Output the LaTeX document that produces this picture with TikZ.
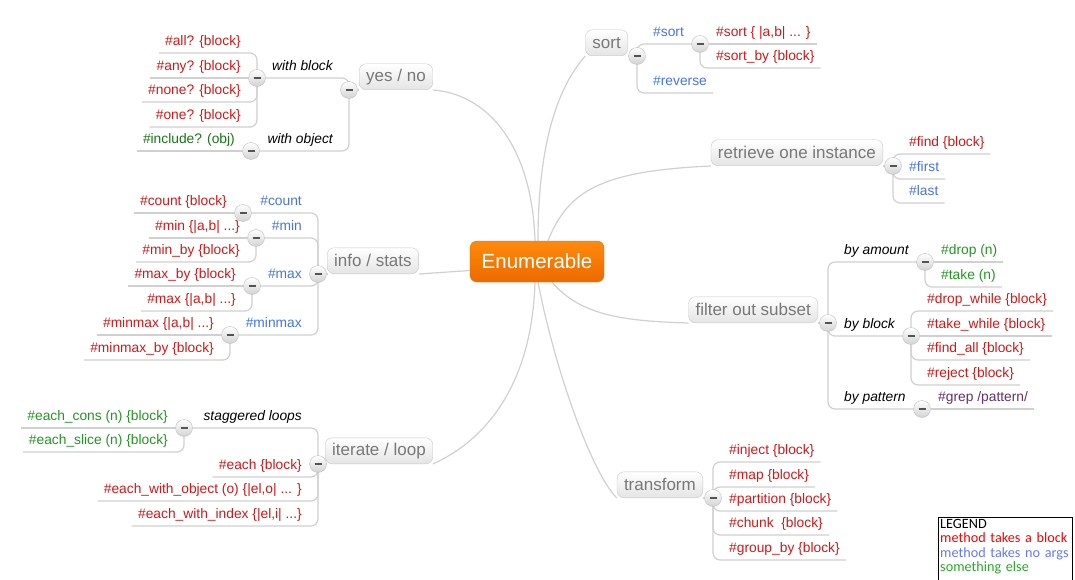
\documentclass[tikz,border=0pt]{standalone}
\usepackage{fontspec}
\setmainfont{Liberation Sans}
\newfontfamily\legendfont{Carlito}
\usetikzlibrary{positioning}
\definecolor{blockred}{RGB}{212,22,22}
\definecolor{noargblue}{RGB}{70,115,235}
\definecolor{elsegreen}{RGB}{34,150,34}
\definecolor{objgreen}{RGB}{22,118,22}
\definecolor{grepviolet}{RGB}{104,46,104}
\definecolor{linkgray}{RGB}{208,208,208}
\definecolor{topictext}{RGB}{120,120,120}
\definecolor{topicline}{RGB}{200,200,200}
\definecolor{topicfill}{RGB}{228,228,228}
\definecolor{roottop}{RGB}{255,138,12}
\definecolor{rootbot}{RGB}{236,106,0}
\definecolor{legred}{RGB}{250,0,0}
\definecolor{legblue}{RGB}{100,120,255}
\definecolor{leggreen}{RGB}{40,170,40}
\pgfdeclarelayer{bg}
\pgfsetlayers{bg,main}

\begin{document}
\begin{tikzpicture}[
  x=1pt, y=-1pt,
  root/.style={rounded corners=7pt, top color=roottop, bottom color=rootbot, draw=rootbot,
               text=white, font=\fontsize{20.5}{24}\selectfont,
               minimum width=134pt, minimum height=41pt, inner sep=0pt},
  topic/.style={rounded corners=7pt, top color=white, bottom color=topicfill, draw=topicline,
                text=topictext, font=\fontsize{17}{20}\selectfont,
                inner xsep=7pt, inner ysep=0pt, minimum height=26pt},
  fold/.style={circle, minimum size=17pt, inner sep=0pt, top color=white, bottom color=gray!35,
               draw=gray!50,
               path picture={\draw[line width=2pt, gray!65!black]
                 ([xshift=-3.5pt]path picture bounding box.center) --
                 ([xshift=3.5pt]path picture bounding box.center);}},
  leaf/.style={font=\fontsize{13.8}{16}\selectfont, text height=10pt, text depth=3pt,
               inner xsep=6pt, inner ysep=4pt},
  leafL/.style={leaf, anchor=south east},
  leafR/.style={leaf, anchor=south west},
  how/.style={font=\fontsize{13.8}{16}\selectfont\itshape, text=black},
  blk/.style={text=blockred},
  noarg/.style={text=noargblue},
  other/.style={text=elsegreen},
  link/.style={draw=linkgray, line width=1.2pt, rounded corners=7pt},
  legendbox/.style={anchor=north west, inner xsep=2pt, inner ysep=2pt, text width=130pt,
                    align=left, font=\legendfont\fontsize{14.2}{14.5}\selectfont}
]
\useasboundingbox (0,0) rectangle (1075,580);

\node[root] (enum) at (537,261.5) {Enumerable};

\node[topic, anchor=south west] (yesno) at (359,90) {yes / no};
\node[topic, anchor=south west] (info) at (327,274) {info / stats};
\node[topic, anchor=south west] (iter) at (325,464) {iterate / loop};
\node[topic, anchor=south east] (sort) at (628,56) {sort};
\node[topic, anchor=south east] (retr) at (883,166) {retrieve one instance};
\node[topic, anchor=south east] (filt) at (818,323) {filter out subset};
\node[topic, anchor=south east] (trans) at (703,498) {transform};

\node[fold] (cYes) at (349,90) {};
\node[fold] (cWB) at (257,78) {};
\node[fold] (cWO) at (251,151) {};
\node[fold] (cInfo) at (318,274) {};
\node[fold] (cCount) at (243,213) {};
\node[fold] (cMin) at (256,238) {};
\node[fold] (cMax) at (252,286) {};
\node[fold] (cMinmax) at (230,335) {};
\node[fold] (cIter) at (318,464) {};
\node[fold] (cStag) at (184,428) {};
\node[fold] (cSort) at (637,56) {};
\node[fold] (cSortS) at (700,44) {};
\node[fold] (cRetr) at (893,166) {};
\node[fold] (cFilt) at (828,323) {};
\node[fold] (cAmount) at (925,262) {};
\node[fold] (cBlock) at (911,336) {};
\node[fold] (cPattern) at (922,409) {};
\node[fold] (cTrans) at (713,498) {};

\node[leafL, how] (lWB) at (339,78) {with block};
\node[leafL, how] (lWO) at (339,151) {with object};
\node[leafL, blk] (all) at (247,53) {\#all? \{block\}};
\node[leafL, blk] (any) at (247,78) {\#any? \{block\}};
\node[leafL, blk] (none) at (247,102) {\#none? \{block\}};
\node[leafL, blk] (one) at (247,127) {\#one? \{block\}};
\node[leafL, text=objgreen] (incl) at (241,151) {\#include? (obj)};

\node[leafL, noarg] (lCount) at (308,213) {\#count};
\node[leafL, noarg] (lMin) at (308,238) {\#min};
\node[leafL, noarg] (lMax) at (308,286) {\#max};
\node[leafL, noarg] (lMinmax) at (308,335) {\#minmax};
\node[leafL, blk] (cntblk) at (233,213) {\#count \{block\}};
\node[leafL, blk] (minblk) at (246,238) {\#min \{|a,b| ...\}};
\node[leafL, blk] (minby) at (246,262) {\#min\_by \{block\}};
\node[leafL, blk] (maxby) at (242,286) {\#max\_by \{block\}};
\node[leafL, blk] (maxblk) at (242,311) {\#max \{|a,b| ...\}};
\node[leafL, blk] (mmblk) at (220,335) {\#minmax \{|a,b| ...\}};
\node[leafL, blk] (mmby) at (220,360) {\#minmax\_by \{block\}};

\node[leafL, how] (lStag) at (308,428) {staggered loops};
\node[leafL, blk] (each) at (308,477) {\#each \{block\}};
\node[leafL, blk] (ewo) at (308,501) {\#each\_with\_object (o) \{|el,o| ... \}};
\node[leafL, blk] (ewi) at (308,526) {\#each\_with\_index \{|el,i| ...\}};
\node[leafL, other] (cons) at (174,428) {\#each\_cons (n) \{block\}};
\node[leafL, other] (slice) at (174,452) {\#each\_slice (n) \{block\}};

\node[leafR, noarg] (lSortS) at (647,44) {\#sort};
\node[leafR, noarg] (rev) at (647,93) {\#reverse};
\node[leafR, blk] (sortblk) at (710,44) {\#sort \{ |a,b| ... \}};
\node[leafR, blk] (sortby) at (710,68) {\#sort\_by \{block\}};

\node[leafR, blk] (find) at (903,154) {\#find \{block\}};
\node[leafR, noarg] (first) at (903,179) {\#first};
\node[leafR, noarg] (last) at (903,203) {\#last};

\node[leafR, how] (lAmount) at (838,262) {by amount};
\node[leafR, how] (lBlock) at (838,336) {by block};
\node[leafR, how] (lPattern) at (838,409) {by pattern};
\node[leafR, other] (drop) at (935,262) {\#drop (n)};
\node[leafR, other] (take) at (935,287) {\#take (n)};
\node[leafR, blk] (dropw) at (921,311) {\#drop\_while \{block\}};
\node[leafR, blk] (takew) at (921,336) {\#take\_while \{block\}};
\node[leafR, blk] (findall) at (921,360) {\#find\_all \{block\}};
\node[leafR, blk] (reject) at (921,385) {\#reject \{block\}};
\node[leafR, text=grepviolet] (grep) at (932,409) {\#grep /pattern/};

\node[leafR, blk] (inject) at (723,462) {\#inject \{block\}};
\node[leafR, blk] (map) at (723,487) {\#map \{block\}};
\node[leafR, blk] (part) at (723,511) {\#partition \{block\}};
\node[leafR, blk] (chunk) at (723,535) {\#chunk\ \ \{block\}};
\node[leafR, blk] (groupby) at (723,560) {\#group\_by \{block\}};

\node[legendbox] (legend) at (938,517) {LEGEND\\
\textcolor{legred}{method takes a block}\\
\textcolor{legblue}{method takes no args}\\
\textcolor{leggreen}{something else}};
\draw[black, line width=0.8pt] ([yshift=-12pt]legend.south west) |- (legend.north east)
  -- ([yshift=-12pt]legend.south east);

\begin{pgfonlayer}{bg}
\draw[link] (yesno.south east) .. controls +(55,4) and +(-3,-95) .. ([xshift=-2pt]enum.north);
\draw[link] (sort.south west) .. controls +(-22,25) and +(0,-110) .. ([xshift=1pt]enum.north);
\draw[link] (retr.south west) .. controls +(-110,5) and +(20,-50) .. ([xshift=11pt]enum.north);
\draw[link] (info.south east) -- ([yshift=-9pt]enum.west);
\draw[link] (iter.south east) .. controls +(55,-25) and +(-3,100) .. ([xshift=-2pt]enum.south);
\draw[link] (trans.south west) .. controls +(-25,-25) and +(17,88) .. ([xshift=1pt]enum.south);
\draw[link] (filt.south west) .. controls +(-60,-2) and +(30,35) .. ([xshift=15pt]enum.south);

\draw[link] (cYes) -- (yesno.south west);
\draw[link] (cInfo) -- (info.south west);
\draw[link] (cIter) -- (iter.south west);
\draw[link] (sort.south east) -- (cSort);
\draw[link] (retr.south east) -- (cRetr);
\draw[link] (filt.south east) -- (cFilt);
\draw[link] (trans.south east) -- (cTrans);

\draw[link] (cYes) |- (cWB);
\draw[link] (cYes) |- (cWO);
\draw[link] (cWB) |- (all.south west);
\draw[link] (cWB) -- (any.south west);
\draw[link] (cWB) |- (none.south west);
\draw[link] (cWB) |- (one.south west);
\draw[link] (cWO) -- (incl.south west);

\draw[link] (cInfo) |- (cCount);
\draw[link] (cInfo) |- (cMin);
\draw[link] (cInfo) |- (cMax);
\draw[link] (cInfo) |- (cMinmax);
\draw[link] (cCount) -- (cntblk.south west);
\draw[link] (cMin) -- (minblk.south west);
\draw[link] (cMin) |- (minby.south west);
\draw[link] (cMax) -- (maxby.south west);
\draw[link] (cMax) |- (maxblk.south west);
\draw[link] (cMinmax) -- (mmblk.south west);
\draw[link] (cMinmax) |- (mmby.south west);

\draw[link] (cIter) |- (cStag);
\draw[link] (cIter) |- (each.south west);
\draw[link] (cIter) |- (ewo.south west);
\draw[link] (cIter) |- (ewi.south west);
\draw[link] (cStag) -- (cons.south west);
\draw[link] (cStag) |- (slice.south west);

\draw[link] (cSort) |- (cSortS);
\draw[link] (cSort) |- (rev.south east);
\draw[link] (cSortS) -- (sortblk.south east);
\draw[link] (cSortS) |- (sortby.south east);

\draw[link] (cRetr) |- (find.south east);
\draw[link] (cRetr) |- (first.south east);
\draw[link] (cRetr) |- (last.south east);

\draw[link] (cFilt) |- (cAmount);
\draw[link] (cFilt) |- (cBlock);
\draw[link] (cFilt) |- (cPattern);
\draw[link] (cAmount) -- (drop.south east);
\draw[link] (cAmount) |- (take.south east);
\draw[link] (cBlock) |- (dropw.south east);
\draw[link] (cBlock) -- (takew.south east);
\draw[link] (cBlock) |- (findall.south east);
\draw[link] (cBlock) |- (reject.south east);
\draw[link] (cPattern) -- (grep.south east);

\draw[link] (cTrans) |- (inject.south east);
\draw[link] (cTrans) |- (map.south east);
\draw[link] (cTrans) |- (part.south east);
\draw[link] (cTrans) |- (chunk.south east);
\draw[link] (cTrans) |- (groupby.south east);
\end{pgfonlayer}
\end{tikzpicture}
\end{document}
